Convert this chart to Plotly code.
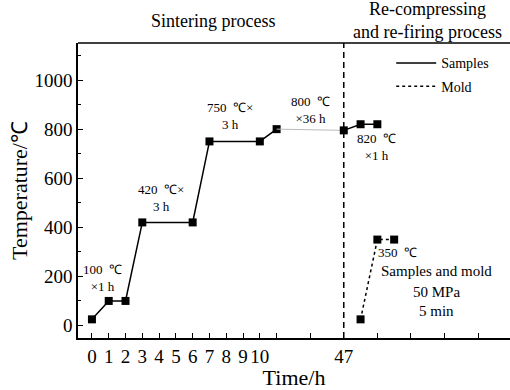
import plotly.graph_objects as go

# ---- data ----
sinter_x = [0, 1, 2, 3, 6, 7, 10, 11]
sinter_y = [25, 100, 100, 420, 420, 750, 750, 800]
hold_x = [11, 15]
hold_y = [800, 795]
refire_x = [15, 16, 17]
refire_y = [795, 820, 820]
mold_x = [16, 17, 18]
mold_y = [25, 350, 350]
divider_x = 15

tick_vals = [0, 1, 2, 3, 4, 5, 6, 7, 8, 9, 10, 11, 13, 15, 17, 19, 21, 23]
tick_text = ["0", "1", "2", "3", "4", "5", "6", "7", "8", "9", "10", "", "", "47", "", "", "", ""]

labels = [
    (0.65, 192, "100  ℃<br>×1 h", 13),
    (4.1, 518, "420  ℃×<br>3 h", 13),
    (8.2, 853, "750  ℃×<br>3 h", 13),
    (13.0, 880, "800  ℃<br>×36 h", 13),
    (16.96, 728, "820  ℃<br>×1 h", 13),
    (18.2, 298, "350  ℃", 13),
    (20.5, 220, "Samples and mold", 15),
    (20.5, 135, "50 MPa", 15),
    (20.5, 61, "5 min", 15),
]

FONT = "Liberation Serif, Times New Roman, serif"

fig = go.Figure()
fig.add_trace(go.Scatter(x=sinter_x, y=sinter_y, mode="lines+markers",
                         line=dict(color="black", width=1.5),
                         marker=dict(symbol="square", size=8, color="black"),
                         showlegend=False))
fig.add_trace(go.Scatter(x=hold_x, y=hold_y, mode="lines",
                         line=dict(color="#bbbbbb", width=1), showlegend=False))
fig.add_trace(go.Scatter(x=refire_x, y=refire_y, mode="lines+markers",
                         line=dict(color="black", width=1.5),
                         marker=dict(symbol="square", size=8, color="black"),
                         showlegend=False))
fig.add_trace(go.Scatter(x=mold_x, y=mold_y, mode="lines+markers",
                         line=dict(color="black", width=1.5, dash="dot"),
                         marker=dict(symbol="square", size=8, color="black"),
                         showlegend=False))
# legend entries
fig.add_trace(go.Scatter(x=[None], y=[None], mode="lines", name="Samples",
                         line=dict(color="black", width=1.5), legendgroup="a"))
fig.add_trace(go.Scatter(x=[None], y=[None], mode="lines", name="Mold",
                         line=dict(color="black", width=1.5, dash="dot"), legendgroup="b"))

fig.add_shape(type="line", xref="x", yref="paper", x0=divider_x, x1=divider_x, y0=0, y1=1,
              line=dict(color="black", width=1.5, dash="6px,4px"))

for x, y, t, s in labels:
    fig.add_annotation(x=x, y=y, xref="x", yref="y", text=t, showarrow=False,
                       xanchor="center", yanchor="middle",
                       font=dict(family=FONT, size=s, color="black"), align="center")

fig.add_annotation(x=0.3125, y=1.075, xref="paper", yref="paper", text="Sintering process",
                   xanchor="center", yanchor="middle",
                   showarrow=False, font=dict(family=FONT, size=18, color="black"))
fig.add_annotation(x=0.808, y=1.075, xref="paper", yref="paper",
                   text="Re-compressing<br>and re-firing process",
                   xanchor="center", yanchor="middle",
                   showarrow=False, font=dict(family=FONT, size=18, color="black"))

fig.update_layout(
    width=510, height=390,
    margin=dict(l=78, r=0, t=43, b=52),
    paper_bgcolor="white", plot_bgcolor="white",
    font=dict(family=FONT, color="black"),
    legend=dict(x=0.725, y=0.985, xanchor="left", yanchor="top",
                font=dict(family=FONT, size=14), bgcolor="rgba(0,0,0,0)",
                traceorder="grouped", tracegroupgap=2, itemwidth=40),
    xaxis=dict(range=[-0.83, 24.9], tickmode="array", tickvals=tick_vals, ticktext=tick_text,
               ticks="inside", ticklen=5, tickwidth=1.2, tickcolor="black",
               showline=True, linecolor="black", linewidth=1.5, mirror=False,
               showgrid=False, zeroline=False,
               tickfont=dict(family=FONT, size=19),
               title=dict(text="Time/h", font=dict(family=FONT, size=22), standoff=4)),
    yaxis=dict(range=[-51, 1151], tickmode="linear", tick0=0, dtick=200,
               ticks="inside", ticklen=5, tickwidth=1.2, tickcolor="black",
               minor=dict(dtick=100, ticks="inside", ticklen=3, tickcolor="black", tickwidth=1.2),
               showline=True, linecolor="black", linewidth=1.5,
               showgrid=False, zeroline=False,
               tickfont=dict(family=FONT, size=19),
               title=dict(text="Temperature/℃", font=dict(family=FONT, size=22), standoff=1)),
)
# top frame line
fig.add_shape(type="line", xref="paper", yref="paper", x0=0, x1=1, y0=1, y1=1,
              line=dict(color="black", width=1.5))

fig.write_html("out.html")
